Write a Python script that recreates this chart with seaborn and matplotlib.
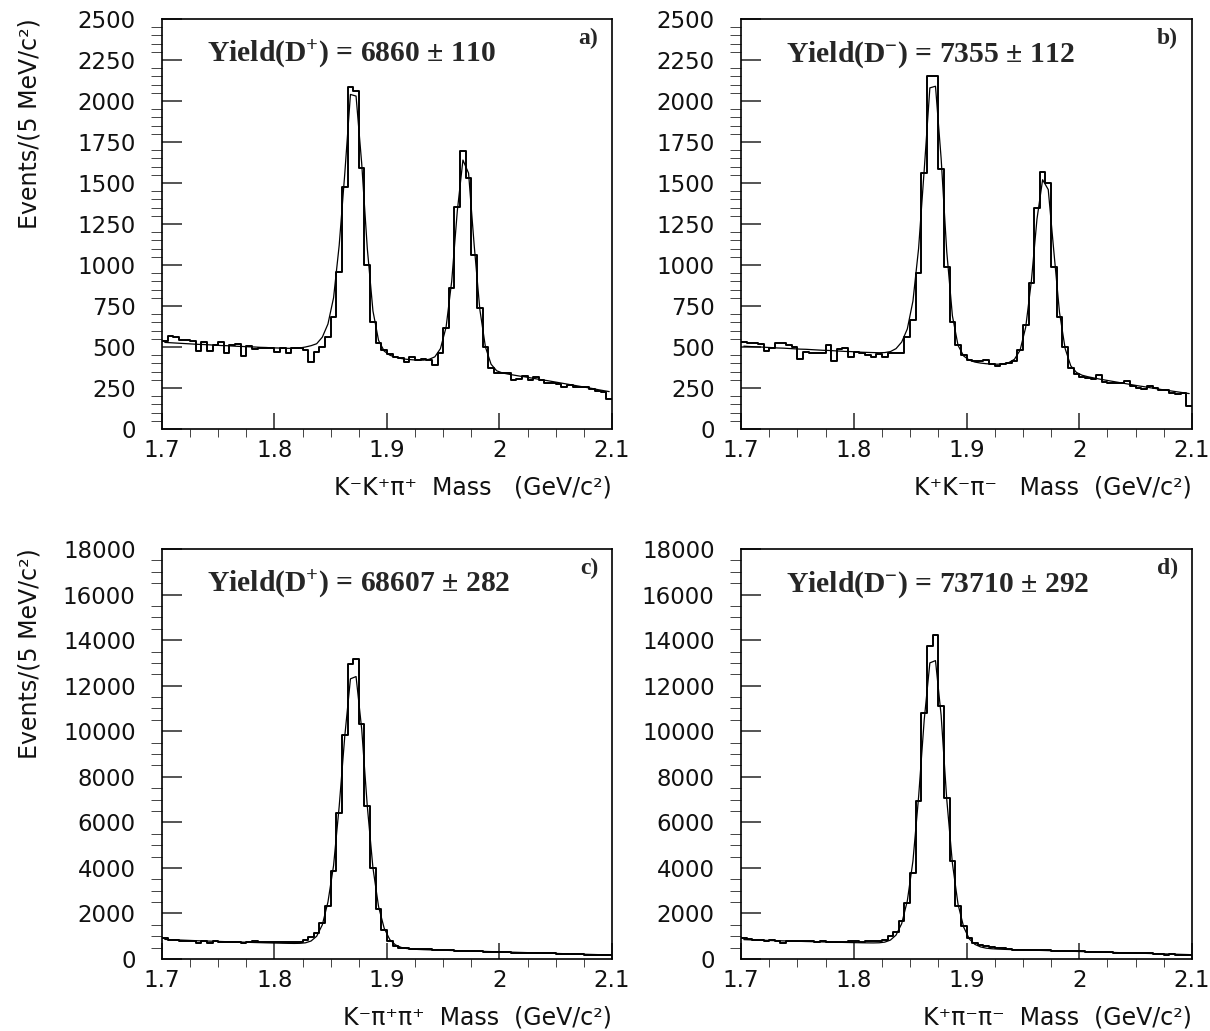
import numpy as np
import pandas as pd
import matplotlib
matplotlib.use("Agg")
import matplotlib.pyplot as plt
import seaborn as sns
from matplotlib.ticker import MultipleLocator, FuncFormatter

# 5 MeV bins from 1.70 to 2.10 GeV/c^2
BIN_LO, BIN_HI, N_BINS = 1.7, 2.1, 80

# a) K- K+ pi+  (D+ and Ds+ peaks)
counts_a = [535, 570, 560, 545, 540, 535, 475, 530, 475, 510,
            530, 465, 515, 520, 445, 505, 490, 495, 495, 495,
            470, 495, 465, 495, 495, 482, 410, 470, 500, 560,
            680, 960, 1478, 2088, 2060, 1590, 1000, 655, 522, 482,
            460, 440, 432, 411, 440, 421, 425, 421, 390, 465,
            614, 858, 1356, 1698, 1529, 1061, 736, 502, 370, 343,
            343, 339, 299, 303, 323, 299, 315, 299, 278, 282,
            272, 254, 266, 258, 254, 254, 242, 234, 228, 183]
fit_a = [528, 526, 524, 522, 520, 518, 516, 515, 513, 511,
         509, 508, 506, 504, 503, 501, 500, 498, 497, 495,
         494, 493, 492, 492, 494, 500, 508, 520, 560, 640,
         800, 1120, 1560, 2040, 2030, 1620, 1100, 720, 540, 475,
         450, 438, 430, 425, 422, 420, 420, 425, 440, 490,
         620, 900, 1330, 1640, 1560, 1120, 730, 500, 395, 355,
         342, 335, 329, 323, 318, 312, 306, 300, 295, 289,
         283, 277, 271, 265, 259, 253, 247, 240, 234, 228]

# b) K+ K- pi-
counts_b = [533, 525, 527, 520, 478, 495, 525, 527, 512, 500,
            425, 472, 466, 461, 461, 512, 417, 486, 492, 441,
            472, 466, 451, 441, 457, 441, 461, 461, 461, 563,
            665, 949, 1559, 2155, 2155, 1584, 990, 655, 512, 451,
            421, 414, 414, 418, 397, 387, 397, 400, 414, 482,
            634, 888, 1346, 1565, 1502, 990, 685, 500, 370, 335,
            319, 309, 303, 329, 289, 278, 280, 278, 292, 262,
            250, 244, 262, 252, 240, 236, 220, 215, 220, 140]
fit_b = [505, 503, 501, 500, 498, 496, 494, 493, 491, 489,
         487, 486, 484, 482, 480, 479, 477, 475, 473, 472,
         470, 468, 467, 466, 465, 466, 472, 490, 530, 610,
         780, 1100, 1580, 2080, 2090, 1650, 1080, 690, 510, 445,
         420, 408, 402, 398, 396, 395, 397, 405, 425, 480,
         620, 900, 1280, 1520, 1460, 1080, 710, 490, 385, 345,
         328, 319, 312, 305, 299, 293, 287, 281, 275, 269,
         263, 258, 252, 247, 241, 236, 231, 226, 221, 216]

# c) K- pi+ pi+
counts_c = [906, 850, 820, 805, 790, 775, 702, 775, 702, 775,
            760, 760, 750, 760, 720, 745, 775, 745, 740, 735,
            760, 735, 730, 730, 740, 820, 966, 1141, 1580, 2312,
            3848, 6408, 9846, 12962, 13182, 10314, 6700, 3994, 2195, 1287,
            775, 556, 500, 470, 450, 440, 430, 420, 410, 405,
            400, 395, 340, 335, 335, 330, 330, 325, 320, 320,
            315, 290, 285, 280, 270, 265, 262, 260, 255, 255,
            230, 225, 220, 215, 200, 195, 190, 185, 190, 185]
fit_c = [860, 850, 840, 830, 820, 810, 800, 792, 784, 776,
         768, 760, 752, 745, 738, 731, 724, 717, 710, 704,
         698, 692, 687, 684, 688, 710, 790, 1000, 1500, 2500,
         4100, 6700, 9800, 12300, 12400, 10100, 6700, 4000, 2300, 1350,
         850, 620, 510, 460, 435, 420, 410, 402, 395, 388,
         381, 374, 367, 360, 353, 346, 339, 332, 325, 318,
         311, 304, 297, 290, 283, 276, 269, 262, 255, 248,
         241, 234, 227, 220, 213, 206, 199, 192, 185, 178]

# d) K+ pi- pi-
counts_d = [920, 860, 830, 845, 775, 820, 800, 702, 775, 780,
            770, 775, 770, 765, 770, 765, 760, 760, 760, 790,
            790, 760, 770, 770, 775, 850, 1000, 1200, 1650, 2450,
            3775, 6920, 10797, 13723, 14235, 11090, 7066, 4287, 2312, 1434,
            922, 702, 600, 560, 520, 480, 470, 420, 415, 410,
            405, 400, 400, 395, 380, 360, 355, 350, 345, 345,
            340, 315, 305, 300, 300, 295, 280, 275, 270, 268,
            265, 255, 250, 200, 200, 195, 200, 195, 190, 185]
fit_d = [850, 842, 834, 826, 818, 810, 803, 796, 789, 782,
         775, 768, 762, 756, 750, 744, 738, 732, 727, 722,
         717, 712, 708, 706, 712, 740, 830, 1050, 1550, 2550,
         4300, 7100, 10500, 13000, 13100, 10700, 7000, 4200, 2400, 1400,
         880, 640, 530, 475, 450, 435, 425, 417, 410, 403,
         396, 389, 382, 375, 368, 361, 354, 347, 340, 333,
         326, 319, 312, 305, 298, 291, 284, 277, 270, 263,
         256, 249, 242, 235, 228, 221, 214, 207, 200, 193]

panels = [
    dict(counts=counts_a, fit=fit_a, ymax=2500, ymaj=250, ymin=50,
         tag="a)", yld="Yield(D$^{+}$) = 6860 ± 110",
         xlab="K⁻K⁺π⁺  Mass   (GeV/c²)", ylab=True),
    dict(counts=counts_b, fit=fit_b, ymax=2500, ymaj=250, ymin=50,
         tag="b)", yld="Yield(D$^{-}$) = 7355 ± 112",
         xlab="K⁺K⁻π⁻   Mass  (GeV/c²)", ylab=False),
    dict(counts=counts_c, fit=fit_c, ymax=18000, ymaj=2000, ymin=500,
         tag="c)", yld="Yield(D$^{+}$) = 68607 ± 282",
         xlab="K⁻π⁺π⁺  Mass  (GeV/c²)", ylab=True),
    dict(counts=counts_d, fit=fit_d, ymax=18000, ymaj=2000, ymin=500,
         tag="d)", yld="Yield(D$^{-}$) = 73710 ± 292",
         xlab="K⁺π⁻π⁻  Mass  (GeV/c²)", ylab=False),
]

sns.set_style("ticks")
plt.rcParams["font.family"] = ["DejaVu Sans"]
plt.rcParams["mathtext.fontset"] = "custom"
plt.rcParams["mathtext.rm"] = "Liberation Serif:bold"
plt.rcParams["mathtext.it"] = "Liberation Serif:bold"
plt.rcParams["mathtext.bf"] = "Liberation Serif:bold"

edges = np.linspace(BIN_LO, BIN_HI, N_BINS + 1)
centers = 0.5 * (edges[:-1] + edges[1:])

fig = plt.figure(figsize=(12.1, 10.31), dpi=100)
W, H = 1210, 1031
boxes = [(162, 19, 450, 410), (741, 19, 451, 410),
         (162, 549, 450, 410), (741, 549, 451, 410)]
ink = "#111111"

for p, (x0, y0, w, h) in zip(panels, boxes):
    ax = fig.add_axes([x0 / W, 1 - (y0 + h) / H, w / W, h / H])
    df = pd.DataFrame({"mass": centers, "events": p["counts"], "fit": p["fit"]})
    sns.histplot(data=df, x="mass", weights="events", bins=N_BINS,
                 binrange=(BIN_LO, BIN_HI), element="step", fill=False,
                 color="black", linewidth=1.4, ax=ax)
    sns.lineplot(data=df, x="mass", y="fit", color="black", linewidth=0.9, ax=ax)
    ax.set_xlim(BIN_LO, BIN_HI)
    ax.set_ylim(0, p["ymax"])
    ax.set_xlabel("")
    ax.set_ylabel("")

    ax.xaxis.set_major_locator(MultipleLocator(0.1))
    ax.xaxis.set_minor_locator(MultipleLocator(0.025))
    ax.yaxis.set_major_locator(MultipleLocator(p["ymaj"]))
    ax.yaxis.set_minor_locator(MultipleLocator(p["ymin"]))
    ax.xaxis.set_major_formatter(FuncFormatter(lambda v, _: f"{round(v, 3):g}"))
    ax.yaxis.set_major_formatter(FuncFormatter(lambda v, _: f"{int(round(v))}"))

    ax.tick_params(direction="in", top=False, right=False, width=1.1,
                   labelsize=16.5, labelcolor=ink)
    ax.tick_params(axis="x", which="major", length=11.5, pad=7)
    ax.tick_params(axis="x", which="minor", length=6)
    ax.tick_params(axis="y", which="major", length=14.5, pad=19)
    ax.tick_params(axis="y", which="minor", length=8)
    for s in ax.spines.values():
        s.set_visible(True)
        s.set_linewidth(1.2)
        s.set_color("black")

    ax.text(0.1, 0.895, p["yld"], transform=ax.transAxes, ha="left",
            va="baseline", family="Liberation Serif", weight="bold", fontsize=21.3)
    ax.text(0.969, 0.94, p["tag"], transform=ax.transAxes, ha="right",
            va="baseline", family="Liberation Serif", weight="bold", fontsize=17)
    ax.text(1.0, -59 / h, p["xlab"], transform=ax.transAxes, ha="right",
            va="center", fontsize=17, color=ink)
    if p["ylab"]:
        ax.text(-132 / w, 1 + 1 / h, "Events/(5 MeV/c²)", transform=ax.transAxes,
                rotation=90, ha="center", va="top", fontsize=17, color=ink)

fig.savefig("out.png", dpi=100)
